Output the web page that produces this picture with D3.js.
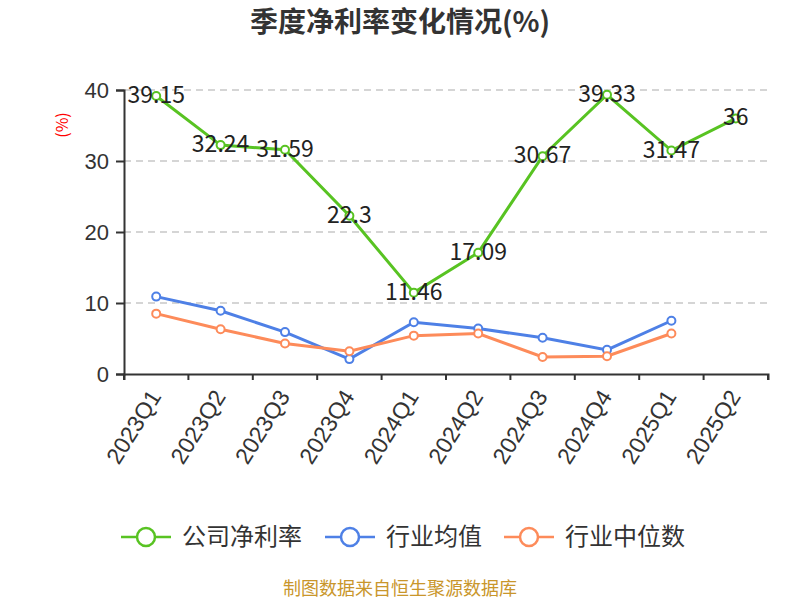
<html>
<head>
<meta charset="UTF-8">
<script src="https://d3js.org/d3.v7.min.js"></script>
<style>
    body { margin: 0; background: #fff; }
    svg { font-family: "Noto Sans CJK SC", "Noto Sans", sans-serif; }
</style>
</head>
<body>
<svg width="800" height="600"></svg>
<script>
    const quarters = ["2023Q1", "2023Q2", "2023Q3", "2023Q4", "2024Q1", "2024Q2", "2024Q3", "2024Q4", "2025Q1", "2025Q2"];
    const companyRate = [39.15, 32.24, 31.59, 22.3, 11.46, 17.09, 30.67, 39.33, 31.47, 36];
    const industryMean = [10.9, 8.9, 5.9, 2.1, 7.3, 6.4, 5.1, 3.4, 7.5, null];
    const industryMedian = [8.5, 6.3, 4.3, 3.2, 5.4, 5.7, 2.4, 2.5, 5.7, null];
    const yTicks = [0, 10, 20, 30, 40];

    const series = [
        {name: "公司净利率", values: companyRate, color: "#58c322", labels: true},
        {name: "行业均值", values: industryMean, color: "#4e80e6", labels: false},
        {name: "行业中位数", values: industryMedian, color: "#fd8b5a", labels: false}
    ];

    const margin = {top: 90, right: 32, bottom: 226, left: 124},
          width = 800 - margin.left - margin.right,
          height = 600 - margin.top - margin.bottom;

    const root = d3.select("svg");
    const svg = root.append("g")
        .attr("transform", `translate(${margin.left},${margin.top})`);

    const x = d3.scaleBand().domain(quarters).range([0, width]);
    const y = d3.scaleLinear().domain([0, 40]).range([height, 0]);

    // grid
    svg.append("g")
        .selectAll("line")
        .data(yTicks.filter(d => d > 0))
        .enter().append("line")
        .attr("x1", 0).attr("x2", width)
        .attr("y1", d => y(d)).attr("y2", d => y(d))
        .style("stroke", "#c8c8c8")
        .style("stroke-width", 1.3)
        .style("stroke-dasharray", "7,5");

    // y axis
    const yAxis = svg.append("g")
        .call(d3.axisLeft(y).tickValues(yTicks).tickSize(8).tickPadding(7));
    yAxis.select(".domain").style("stroke", "#333").style("stroke-width", 2);
    yAxis.selectAll(".tick line").style("stroke", "#333").style("stroke-width", 2);
    yAxis.selectAll("text").style("font-size", "22px").style("fill", "#333");

    // x axis
    const xAxis = svg.append("g")
        .attr("transform", `translate(0,${height})`)
        .call(d3.axisBottom(x).tickSizeOuter(0).tickSize(6));
    xAxis.select(".domain").style("stroke", "#333").style("stroke-width", 2);
    xAxis.selectAll(".tick line")
        .attr("transform", `translate(${-x.bandwidth() / 2},0)`)
        .style("stroke", "#333").style("stroke-width", 2);
    xAxis.append("line")
        .attr("x1", width).attr("x2", width).attr("y1", 0).attr("y2", 6)
        .style("stroke", "#333").style("stroke-width", 2);
    xAxis.selectAll(".tick text")
        .style("font-size", "23px")
        .style("fill", "#333")
        .style("text-anchor", "end")
        .attr("dy", "0.35em")
        .attr("transform", "translate(-1,18) rotate(-58)")
        .attr("y", 0)
        .attr("x", 0);

    const cx = d => x(d) + x.bandwidth() / 2;

    series.forEach(s => {
        const pts = quarters.map((q, i) => ({q: q, v: s.values[i]})).filter(d => d.v !== null);
        const line = d3.line().x(d => cx(d.q)).y(d => y(d.v));
        svg.append("path")
            .datum(pts)
            .attr("d", line)
            .style("fill", "none")
            .style("stroke", s.color)
            .style("stroke-width", 3);
        svg.append("g").selectAll("circle")
            .data(pts)
            .enter().append("circle")
            .attr("cx", d => cx(d.q))
            .attr("cy", d => y(d.v))
            .attr("r", 4)
            .style("fill", "#fff")
            .style("stroke", s.color)
            .style("stroke-width", 2);
        if (s.labels) {
            svg.append("g").selectAll("text")
                .data(pts)
                .enter().append("text")
                .attr("x", d => cx(d.q))
                .attr("y", d => y(d.v) - 1)
                .attr("dy", "0.35em")
                .style("text-anchor", "middle")
                .style("font-size", "23px")
                .style("fill", "#222")
                .text(d => d.v);
        }
    });

    // y label
    root.append("text")
        .attr("transform", "translate(62,125) rotate(-90)")
        .attr("dy", "0.35em")
        .style("text-anchor", "middle")
        .style("font-size", "16px")
        .style("fill", "red")
        .text("(%)");

    // title
    root.append("text")
        .attr("x", 400).attr("y", 22)
        .attr("dy", "0.35em")
        .style("text-anchor", "middle")
        .style("font-size", "28px")
        .style("font-weight", "bold")
        .style("fill", "#333")
        .text("季度净利率变化情况(%)");

    // legend
    const legendX = [121, 325, 504];
    series.forEach((s, i) => {
        const g = root.append("g").attr("transform", `translate(${legendX[i]},537)`);
        g.append("line").attr("x1", 0).attr("x2", 50)
            .style("stroke", s.color).style("stroke-width", 2.5);
        g.append("circle").attr("cx", 25).attr("r", 9)
            .style("fill", "#fff").style("stroke", s.color).style("stroke-width", 2.5);
        g.append("text").attr("x", 61).attr("dy", "0.35em")
            .style("font-size", "24px").style("fill", "#333")
            .text(s.name);
    });

    // source
    root.append("text")
        .attr("x", 400).attr("y", 589)
        .attr("dy", "0.35em")
        .style("text-anchor", "middle")
        .style("font-size", "18px")
        .style("fill", "#c9962b")
        .text("制图数据来自恒生聚源数据库");
</script>
</body>
</html>
